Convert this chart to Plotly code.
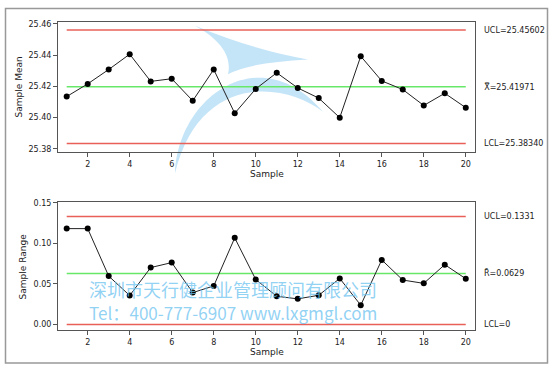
import plotly.graph_objects as go

W, H = 554, 370

samples = list(range(1, 21))
means = [25.4135, 25.4216, 25.4308, 25.4406, 25.4232, 25.4249, 25.4108, 25.4308, 25.4028, 25.4184,
         25.4287, 25.4190, 25.4125, 25.4000, 25.4393, 25.4235, 25.4180, 25.4078, 25.4156, 25.4064]
ranges = [0.1182, 0.1182, 0.0597, 0.0357, 0.0702, 0.0763, 0.0393, 0.0475, 0.1068, 0.0555,
          0.0348, 0.0316, 0.0360, 0.0568, 0.0238, 0.0796, 0.0548, 0.0507, 0.0738, 0.0564]

xbar_ucl, xbar_cl, xbar_lcl = 25.45602, 25.41971, 25.38340
r_ucl, r_cl, r_lcl = 0.1331, 0.0629, 0.0

xbar_labels = ["UCL=25.45602", "X\u033f=25.41971", "LCL=25.38340"]
r_labels = ["UCL=0.1331", "R\u0304=0.0629", "LCL=0"]
x_ticks = [2, 4, 6, 8, 10, 12, 14, 16, 18, 20]
xbar_ticks = [25.38, 25.40, 25.42, 25.44, 25.46]
r_ticks = [0.00, 0.05, 0.10, 0.15]
watermark = ["深圳市天行健企业管理顾问有限公司", "Tel：400-777-6907 www.lxgmgl.com"]

RED = "rgb(232,96,88)"
GREEN = "rgb(104,232,104)"
FONT = "DejaVu Sans"


def px(x, y):
    return x / W, 1 - y / H


def path(cmds):
    out = []
    for c in cmds:
        if isinstance(c, str):
            out.append(c)
        else:
            a, b = px(*c)
            out.append(f"{a:.5f},{b:.5f}")
    return " ".join(out)


fig = go.Figure()

for val, col, ax in [(xbar_ucl, RED, "y"), (xbar_cl, GREEN, "y"), (xbar_lcl, RED, "y"),
                     (r_ucl, RED, "y2"), (r_cl, GREEN, "y2"), (r_lcl, RED, "y2")]:
    fig.add_trace(go.Scatter(x=[samples[0], samples[-1]], y=[val, val], mode="lines",
                             line=dict(color=col, width=1.5), xaxis="x" if ax == "y" else "x2",
                             yaxis=ax, hoverinfo="skip", showlegend=False))

fig.add_trace(go.Scatter(x=samples, y=means, mode="lines+markers",
                         line=dict(color="#222", width=1),
                         marker=dict(color="black", size=6),
                         xaxis="x", yaxis="y", showlegend=False))
fig.add_trace(go.Scatter(x=samples, y=ranges, mode="lines+markers",
                         line=dict(color="#222", width=1),
                         marker=dict(color="black", size=6),
                         xaxis="x2", yaxis="y2", showlegend=False))

x0, x1 = 58 / W, 475 / W
top_dom = [1 - 151 / H, 1 - 19.5 / H]
bot_dom = [1 - 330.7 / H, 1 - 200.7 / H]

axcommon = dict(showline=True, linecolor="#555", linewidth=1, mirror=True, ticks="outside",
                ticklen=4, tickcolor="#555", showgrid=False, zeroline=False,
                tickfont=dict(family=FONT, size=8, color="#222"))

fig.update_layout(
    width=W, height=H, margin=dict(l=0, r=0, t=0, b=0),
    paper_bgcolor="white", plot_bgcolor="rgba(0,0,0,0)",
    xaxis=dict(domain=[x0, x1], range=[0.586, 20.44], tickvals=x_ticks, anchor="y", **axcommon),
    yaxis=dict(domain=top_dom, range=[25.3778, 25.4610], tickvals=xbar_ticks,
               tickformat=".2f", anchor="x", **axcommon),
    xaxis2=dict(domain=[x0, x1], range=[0.586, 20.44], tickvals=x_ticks, anchor="y2", **axcommon),
    yaxis2=dict(domain=bot_dom, range=[-0.00695, 0.1516], tickvals=r_ticks,
                tickformat=".2f", anchor="x2", **axcommon),
)

ann = []
lx = 481.7 / W
for v, t in zip([xbar_ucl, xbar_cl, xbar_lcl], xbar_labels):
    ann.append(dict(x=lx, xref="paper", y=v, yref="y", text=t, showarrow=False, xanchor="left",
                    font=dict(family=FONT, size=8, color="#222")))
for v, t in zip([r_ucl, r_cl, r_lcl], r_labels):
    ann.append(dict(x=lx, xref="paper", y=v, yref="y2", text=t, showarrow=False, xanchor="left",
                    font=dict(family=FONT, size=8, color="#222")))

for (xx, yy, t, ang) in [(266.5, 172.7, "Sample", 0), (266.5, 352.7, "Sample", 0),
                         (19.3, 85, "Sample Mean", -90), (23.3, 266, "Sample Range", -90)]:
    a, b = px(xx, yy)
    ann.append(dict(x=a, y=b, xref="paper", yref="paper", text=t, showarrow=False,
                    textangle=ang, xanchor="center", yanchor="middle",
                    font=dict(family=FONT, size=9, color="#222")))

# watermark text (one block, second line slightly smaller)
a, b = px(87, 301)
ann.append(dict(x=a, y=b, xref="paper", yref="paper",
                text=watermark[0] + "<br><span style='font-size:17.1px'>" + watermark[1] + "</span>",
                showarrow=False, xanchor="left", yanchor="middle", align="left",
                font=dict(family="Noto Sans CJK SC", size=18, color="rgba(110,195,240,0.75)")))
fig.update_layout(annotations=ann)

shapes = []
a0, b0 = px(5.5, 5.5)
a1, b1 = px(547.5, 364)
shapes.append(dict(type="rect", xref="paper", yref="paper", x0=a0, y0=b1, x1=a1, y1=b0,
                   line=dict(color="#999", width=1.5), layer="below"))
LOGO = "rgba(100,185,235,0.38)"
shapes.append(dict(type="path", xref="paper", yref="paper", layer="below",
                   fillcolor=LOGO, line=dict(width=0),
                   path=path(["M", (195, 23), "Q", (255, 48), (308, 57),
                              "Q", (250, 60), (228, 72),
                              "C", (232, 55), (222, 38), (195, 23), "Z"])))
shapes.append(dict(type="path", xref="paper", yref="paper", layer="below",
                   fillcolor=LOGO, line=dict(width=0),
                   path=path(["M", (175, 172), "C", (178, 95), (260, 35), (323, 110),
                              "C", (285, 80), (200, 70), (175, 172), "Z"])))
fig.update_layout(shapes=shapes)

fig.write_html("out.html")
